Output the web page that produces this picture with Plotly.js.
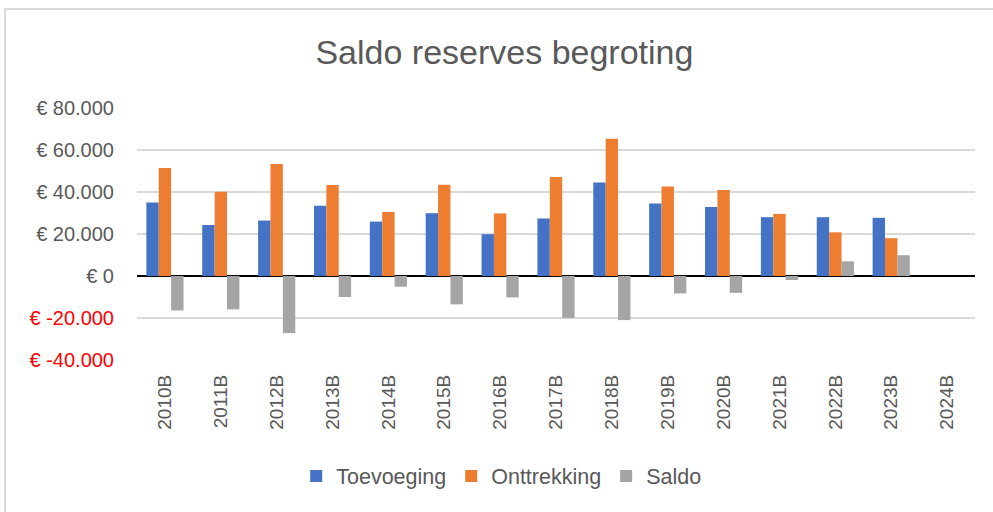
<!DOCTYPE html>
<html>
<head>
<meta charset="utf-8">
<script src="https://cdn.plot.ly/plotly-3.0.1.min.js"></script>
<style>
  html, body { margin: 0; padding: 0; background: #fff; overflow: hidden; }
  #c1 { position: absolute; left: 0; top: 0; width: 993px; height: 512px; }
  #frame { position: absolute; left: 4px; top: 8px; width: 1000px; height: 520px;
           border-left: 2px solid #d9d9d9; border-top: 2px solid #d9d9d9; pointer-events: none; }
</style>
</head>
<body>
<div id="c1"></div>
<div id="frame"></div>
<script>
var years = ['2010B', '2011B', '2012B', '2013B', '2014B', '2015B', '2016B', '2017B',
             '2018B', '2019B', '2020B', '2021B', '2022B', '2023B', '2024B'];
var toevoeging = [35000, 24300, 26400, 33400, 25900, 29900, 19900, 27400, 44500, 34500, 32900, 28000, 28000, 27700, null];
var onttrekking = [51400, 40100, 53300, 43300, 30500, 43400, 29800, 47100, 65400, 42600, 40900, 29600, 20800, 18000, null];
var saldo = [-16400, -15900, -27200, -10000, -5100, -13500, -10200, -20000, -21000, -8300, -8000, -1900, 7000, 9900, null];
var yTicks = [-40000, -20000, 0, 20000, 40000, 60000, 80000];

// "€ 80.000" style labels, negatives in red
var yText = yTicks.map(function(v) {
	var s = Math.abs(v).toString().replace(/\B(?=(\d{3})+(?!\d))/g, '.');
	if (v < 0) return '<span style="color:#ff0000">€ -' + s + '</span>';
	return '€ ' + s;
});

var font = 'Liberation Sans, Arial, sans-serif';

var trace1 = { x: years, y: toevoeging, name: 'Toevoeging', type: 'bar',
	marker: { color: '#4472c4' } };
var trace2 = { x: years, y: onttrekking, name: 'Onttrekking', type: 'bar',
	marker: { color: '#ed7d31' } };
var trace3 = { x: years, y: saldo, name: 'Saldo', type: 'bar',
	marker: { color: '#a5a5a5' } };

var layout = {
	width: 993,
	height: 512,
	margin: { l: 137, r: 18, t: 108, b: 152 },
	paper_bgcolor: '#ffffff',
	plot_bgcolor: '#ffffff',
	font: { family: font, color: '#595959' },
	title: {
		text: 'Saldo reserves begroting',
		x: 0.508, xanchor: 'center',
		y: 0.898, yanchor: 'middle',
		font: { family: font, size: 34, color: '#595959' }
	},
	barmode: 'group',
	bargap: 0.335,
	bargroupgap: 0,
	xaxis: {
		type: 'category',
		tickangle: -90,
		tickfont: { family: font, size: 19, color: '#595959' },
		ticks: '',
		ticklabelstandoff: 10,
		showgrid: false,
		showline: false
	},
	yaxis: {
		range: [-40000, 80000],
		tickvals: yTicks,
		ticktext: yText,
		tickfont: { family: font, size: 20, color: '#595959' },
		ticks: '',
		ticklabelstandoff: 22,
		gridcolor: '#d9d9d9',
		gridwidth: 1.5,
		zeroline: true,
		zerolinecolor: '#000000',
		zerolinewidth: 1.5,
		showline: false
	},
	showlegend: true,
	legend: {
		orientation: 'h',
		x: 0.19, xanchor: 'left',
		y: -0.46, yanchor: 'middle',
		font: { family: font, size: 21.5, color: '#595959' },
		traceorder: 'normal'
	}
};

Plotly.newPlot('c1', [trace1, trace2, trace3], layout, { displayModeBar: false });
</script>
</body>
</html>
